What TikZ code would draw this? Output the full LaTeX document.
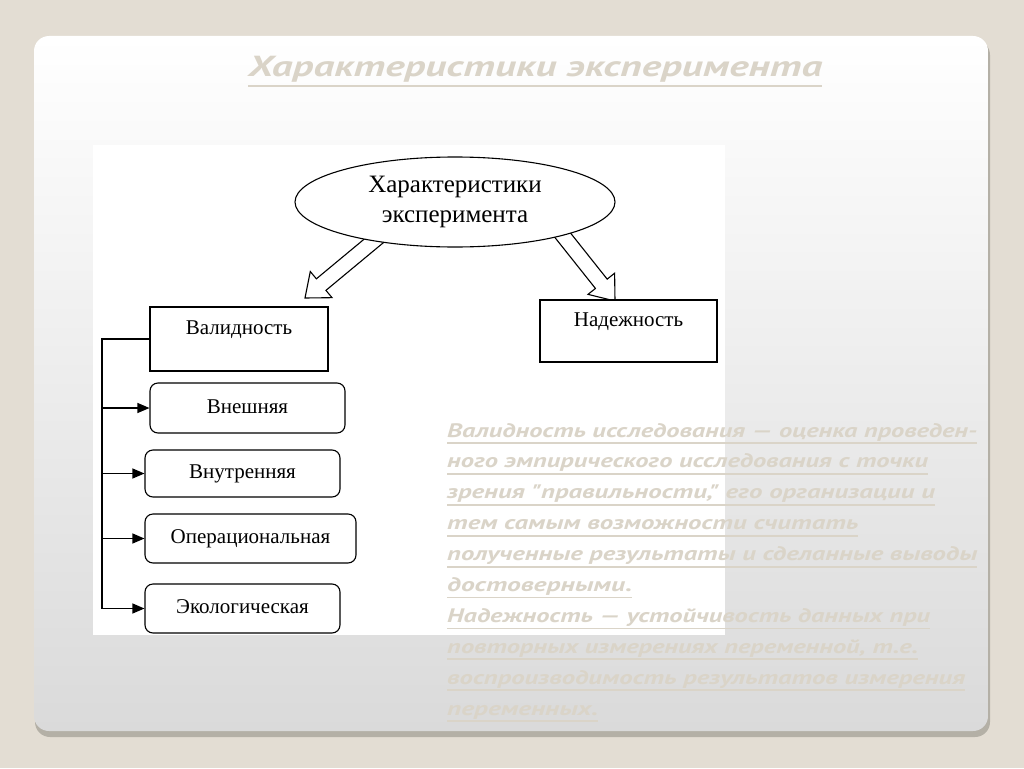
\documentclass[tikz,border=0pt]{standalone}
\usepackage{fontspec}
\usepackage{graphicx}
\usetikzlibrary{shapes.geometric,arrows.meta,calc}
\setmainfont{Liberation Serif}
\newfontfamily\ttlfont{PT Sans}
\definecolor{bgc}{RGB}{227,221,211}
\definecolor{shc}{RGB}{180,176,166}
\definecolor{slbot}{RGB}{218,218,218}
\definecolor{txc}{RGB}{218,212,200}
\tikzset{
  box/.style={draw=black, line width=1.1pt, fill=white, inner sep=0pt},
  rbox/.style={box, rounded corners=8pt},
  btxt/.style={font=\fontsize{21}{25}\selectfont, text height=14pt, text depth=4pt},
  conn/.style={draw=black, line width=1.1pt},
  blockarrow/.style={draw=black, line width=1.1pt, fill=white, line join=miter},
  bodyline/.style={anchor=base west, inner sep=0pt, text=txc, font=\ttlfont\bfseries\itshape\fontsize{19.5}{22}\selectfont},
  uline/.style={draw=txc, line width=1.8pt},
}
\begin{document}
\begin{tikzpicture}[x=1pt,y=1pt]
\useasboundingbox (0,0) rectangle (1024,-768);
\fill[bgc] (0,0) rectangle (1024,-768);
% slide
\fill[shc, rounded corners=15pt] (35,-40) rectangle (990,-737);
\shade[top color=white, bottom color=slbot, rounded corners=15pt] (34,-36) rectangle (988,-731);
% diagram area
\fill[white] (93,-145) rectangle (725,-635);
% block arrows
\coordinate (la) at (305,-298);
\coordinate (ra) at (615,-301);
\draw[blockarrow, shift={(la)}, rotate=219.7] (0,0) -- (-21,17) -- (-21,7.5) -- (-100,7.5) -- (-100,-7.5) -- (-21,-7.5) -- (-21,-17) -- cycle;
\draw[blockarrow, shift={(ra)}, rotate=-51.5] (0,0) -- (-22,17) -- (-22,7.5) -- (-100,7.5) -- (-100,-7.5) -- (-22,-7.5) -- (-22,-17) -- cycle;
% ellipse
\node[draw, ellipse, line width=1.1pt, fill=white, minimum width=320pt, minimum height=90pt, inner sep=0pt, align=center, font=\fontsize{25}{30}\selectfont] (ell) at (455,-202) {Характеристики\\эксперимента};
% boxes
\node[box, minimum width=178pt, minimum height=64pt] (val) at (239,-339) {};
\node[btxt, anchor=base, inner sep=0pt] (valt) at ([yshift=-28pt]val.north) {Валидность};
\node[box, minimum width=177pt, minimum height=62pt] (nad) at (628.5,-331) {};
\node[btxt, anchor=base, inner sep=0pt] (nadt) at ([yshift=-27pt]nad.north) {Надежность};
\node[rbox, btxt, minimum width=195pt, minimum height=50pt] (vne) at (247.5,-408) {Внешняя};
\node[rbox, btxt, minimum width=195pt, minimum height=47pt] (vnu) at (242.5,-473.5) {Внутренняя};
\node[rbox, btxt, minimum width=211pt, minimum height=49pt] (ope) at (250.5,-538.5) {Операциональная};
\node[rbox, btxt, minimum width=195pt, minimum height=49pt] (eco) at (242.5,-608.5) {Экологическая};
% connectors
\coordinate (sp) at (102,-339);
\draw[conn] (val.west) -- (sp) -- (sp |- eco.west);
\foreach \b in {vne,vnu,ope,eco}
  \draw[conn, -{Triangle[length=12pt,width=10pt]}] (sp |- \b.west) -- (\b.west);
% title
\node[anchor=base west, inner sep=0pt, text=txc, font=\ttlfont\bfseries\itshape\fontsize{29}{32}\selectfont] (ttl) at (248,-76) {\resizebox{574pt}{\height}{Характеристики эксперимента}};
\draw[uline, line width=2.5pt] ([yshift=-10pt]ttl.base west) -- ([yshift=-10pt]ttl.base east);
% body text
\node[bodyline] (t1) at (447,-437) {\resizebox{530pt}{\height}{Валидность исследования — оценка проведен-}};
\node[bodyline] (t2) at (447,-467.9) {\resizebox{481pt}{\height}{ного эмпирического исследования с точки}};
\node[bodyline] (t3) at (447,-498.8) {\resizebox{488pt}{\height}{зрения "правильности," его организации и}};
\node[bodyline] (t4) at (447,-529.7) {\resizebox{411pt}{\height}{тем самым возможности считать}};
\node[bodyline] (t5) at (447,-560.6) {\resizebox{530pt}{\height}{полученные результаты и сделанные выводы}};
\node[bodyline] (t6) at (447,-591.5) {\resizebox{185pt}{\height}{достоверными.}};
\node[bodyline] (t7) at (447,-622.4) {\resizebox{483pt}{\height}{Надежность — устойчивость данных при}};
\node[bodyline] (t8) at (447,-653.3) {\resizebox{471pt}{\height}{повторных измерениях переменной, т.е.}};
\node[bodyline] (t9) at (447,-684.2) {\resizebox{518pt}{\height}{воспроизводимость результатов измерения}};
\node[bodyline] (t10) at (447,-715.1) {\resizebox{151pt}{\height}{переменных.}};
\foreach \t in {t1,t2,t3,t4,t5,t6,t7,t8,t9,t10}
  \draw[uline] ([yshift=-6pt]\t.base west) -- ([yshift=-6pt]\t.base east);
\end{tikzpicture}
\end{document}
